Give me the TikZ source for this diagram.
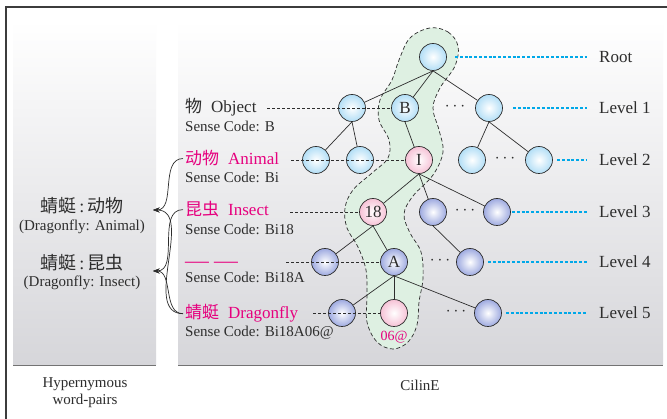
\documentclass[tikz,border=0pt]{standalone}
\usepackage{fontspec}
\usepackage{graphicx}
\setmainfont{Liberation Serif}
\newfontfamily\cjk{Noto Sans CJK SC}
\usetikzlibrary{arrows.meta}
\definecolor{hotpink}{RGB}{230,0,126}
\definecolor{lblue}{RGB}{178,222,246}
\definecolor{lav}{RGB}{158,170,224}
\definecolor{lpink}{RGB}{246,194,214}
\definecolor{blobgreen}{RGB}{222,240,226}
\definecolor{cyanline}{RGB}{0,168,232}
\definecolor{framec}{RGB}{60,60,60}
\definecolor{txt}{RGB}{45,45,45}
\definecolor{panelbot}{RGB}{214,214,218}
\tikzset{
 nd/.style={circle, draw=txt, line width=0.7pt, minimum size=27pt, inner sep=0pt, text=txt, font=\fontsize{17}{17}\selectfont},
 bnode/.style={nd, inner color=white, outer color=lblue},
 vnode/.style={nd, inner color=white, outer color=lav},
 pnode/.style={nd, inner color=white, outer color=lpink},
 tedge/.style={line width=0.7pt, draw=txt},
 hdash/.style={line width=0.8pt, dash pattern=on 3pt off 2pt, draw=txt},
 ldash/.style={line width=1.3pt, dash pattern=on 3pt off 1.8pt, draw=cyanline},
 lbl/.style={anchor=base west, inner sep=0pt, text=txt, font=\fontsize{17}{17}\selectfont},
 sense/.style={anchor=base west, inner sep=0pt, text=txt, font=\fontsize{15}{15}\selectfont},
 lvl/.style={anchor=west, inner sep=0pt, text=txt, font=\fontsize{17}{17}\selectfont},
 ell/.style={inner sep=0pt, text=txt, font=\fontsize{16}{16}\selectfont},
 pairtxt/.style={inner sep=0pt, text=txt, font=\fontsize{18}{18}\selectfont},
 pairen/.style={inner sep=0pt, text=txt, font=\fontsize{15}{15}\selectfont},
 arr/.style={line width=0.7pt, -{Stealth[length=6.5pt,width=5pt]}, draw=txt},
}
\begin{document}
\begin{tikzpicture}[x=1pt,y=-1pt]
\fill[white] (0,0) rectangle (667,419);
\useasboundingbox (0,0) rectangle (667,419);
% frame
\draw[line width=1.2pt, draw=framec] (6,419) -- (6,7) -- (667,7);
% panels
\shade[top color=white, bottom color=panelbot] (13,20) rectangle (156,365);
\shade[top color=white, bottom color=panelbot] (178,20) rectangle (663,365);
\draw[line width=0.9pt, draw=black!55] (13,365) -- (156,365);
\draw[line width=0.9pt, draw=black!55] (178,365) -- (663,365);
% highlight blob
\draw[draw=txt, fill=blobgreen, line width=0.7pt, dash pattern=on 4pt off 2.5pt]
 plot[smooth cycle, tension=0.6] coordinates {
 (430,28) (448,32) (458,46) (455,66) (440,88) (433,108) (439,130) (443,152)
 (433,175) (413,196) (404,214) (410,233) (421,252) (423,278) (419,302)
 (417,325) (408,342) (393,349) (377,342) (367,322) (367,295) (366,270)
 (358,247) (347,228) (345,208) (353,190) (372,173) (388,158) (389,140)
 (379,120) (380,100) (392,80) (399,60) (410,38)};
% tree nodes
\node[bnode] (root) at (433,57) {};
\node[bnode] (n1a) at (352,108) {};
\node[bnode] (B) at (405,108) {B};
\node[bnode] (n1c) at (489,108) {};
\node[bnode] (n2a) at (316,160) {};
\node[bnode] (n2b) at (360,160) {};
\node[pnode] (I) at (419,160) {I};
\node[bnode] (n2d) at (472,160) {};
\node[bnode] (n2e) at (539,160) {};
\node[pnode] (n18) at (373,212) {18};
\node[vnode] (n3b) at (433,212) {};
\node[vnode] (n3c) at (497,212) {};
\node[vnode] (n4a) at (325,262) {};
\node[vnode] (A) at (394,262) {A};
\node[vnode] (n4c) at (470,262) {};
\node[vnode] (n5a) at (342,313) {};
\node[pnode] (n06) at (394,313) {};
\node[vnode] (n5c) at (488,313) {};
\node[inner sep=0pt, text=hotpink, font=\fontsize{14}{14}\selectfont] (l06) at (394,337) {06@};
% tree edges
\draw[tedge] (root.south) -- (n1a);
\draw[tedge] (root.south) -- (B);
\draw[tedge] (root.south) -- (n1c);
\draw[tedge] (n1a.south) -- (n2a);
\draw[tedge] (n1a.south) -- (n2b);
\draw[tedge] (B.south) -- (I);
\draw[tedge] (n1c.south) -- (n2d);
\draw[tedge] (n1c.south) -- (n2e);
\draw[tedge] (I.south) -- (n18);
\draw[tedge] (I.south) -- (n3b);
\draw[tedge] (I.south) -- (n3c);
\draw[tedge] (n18.south) -- (n4a);
\draw[tedge] (n18.south) -- (A);
\draw[tedge] (n3b.south) -- (n4c);
\draw[tedge] (A.south) -- (n5a);
\draw[tedge] (A.south) -- (n06);
\draw[tedge] (A.south) -- (n5c);
% ellipses
\node[ell] (e1) at (455,107) {$\cdots$};
\node[ell] (e2) at (505,159) {$\cdots$};
\node[ell] (e3) at (465,211) {$\cdots$};
\node[ell] (e4) at (440,261) {$\cdots$};
\node[ell] (e5) at (456,312) {$\cdots$};
% level labels
\node[lvl] (lr) at (599,57) {Root};
\node[lvl] (l1) at (599,108) {Level 1};
\node[lvl] (l2) at (599,160) {Level 2};
\node[lvl] (l3) at (599,212) {Level 3};
\node[lvl] (l4) at (599,262) {Level 4};
\node[lvl] (l5) at (599,313) {Level 5};
\coordinate (b0) at (455,57);
\coordinate (b1) at (513,108);
\coordinate (b2) at (557,160);
\coordinate (b3) at (512,212);
\coordinate (b4) at (488,262);
\coordinate (b5) at (506,313);
\draw[ldash] (b0) -- ([xshift=-12pt]lr.west);
\draw[ldash] (b1) -- ([xshift=-12pt]l1.west);
\draw[ldash] (b2) -- ([xshift=-12pt]l2.west);
\draw[ldash] (b3) -- ([xshift=-12pt]l3.west);
\draw[ldash] (b4) -- ([xshift=-12pt]l4.west);
\draw[ldash] (b5) -- ([xshift=-12pt]l5.west);
% word labels
\node[lbl] (obj) at (185,113) {{\cjk 物}\hspace{9pt}Object};
\node[sense] (c1) at (185,132) {Sense Code: B};
\node[lbl, text=hotpink] (anim) at (185,165) {{\cjk 动物}\hspace{9pt}Animal};
\node[sense] (c2) at (185,183) {Sense Code: Bi};
\node[lbl, text=hotpink] (ins) at (185,216) {{\cjk 昆虫}\hspace{9pt}Insect};
\node[sense] (c3) at (185,235) {Sense Code: Bi18};
\node[lbl, text=hotpink] (dsh) at (185,267.5) {\scalebox{1.4}[1.2]{—}\hspace{5pt}\scalebox{1.4}[1.2]{—}};
\node[sense] (c4) at (185,283) {Sense Code: Bi18A};
\node[lbl, text=hotpink] (dfly) at (185,319) {{\cjk 蜻蜓}\hspace{9pt}Dragonfly};
\node[sense] (c5) at (185,337) {Sense Code: Bi18A06@};
% dashed guides
\coordinate (d1) at (267,108);
\coordinate (d2) at (291,160);
\coordinate (d3) at (290,212);
\coordinate (d4) at (286,262);
\coordinate (d5) at (313,313);
\draw[hdash] (d1) -- (B.west);
\draw[hdash] (d2) -- (I.west);
\draw[hdash] (d3) -- (n18.west);
\draw[hdash] (d4) -- (A.west);
\draw[hdash] (d5) -- (n06.west);
% left panel
\node[pairtxt] (p1) at (82,206) {{\cjk 蜻蜓}\,:\,{\cjk 动物}};
\node[pairen] (p1e) at (82,227) {(Dragonfly: Animal)};
\node[pairtxt] (p2) at (82,263) {{\cjk 蜻蜓}\,:\,{\cjk 昆虫}};
\node[pairen] (p2e) at (82,283) {(Dragonfly: Insect)};
\coordinate (t1) at (153,210);
\coordinate (t2) at (153,271);
\draw[arr] ([xshift=-2pt]anim.west) to[out=180,in=0] (t1);
\draw[arr] ([xshift=-2pt]ins.west) to[out=180,in=0] (t2);
\draw[arr] ([xshift=-2pt]dfly.west) to[out=180,in=0] (t2);
\draw[arr] ([xshift=-2pt]dfly.west) to[out=180,in=0] (t1);
% captions
\node[align=center, inner sep=0pt, text=txt, font=\fontsize{15}{17}\selectfont] (cap1) at (85,393) {Hypernymous\\word-pairs};
\node[inner sep=0pt, text=txt, font=\fontsize{15}{17}\selectfont] (cap2) at (420,385) {CilinE};
\end{tikzpicture}
\end{document}
